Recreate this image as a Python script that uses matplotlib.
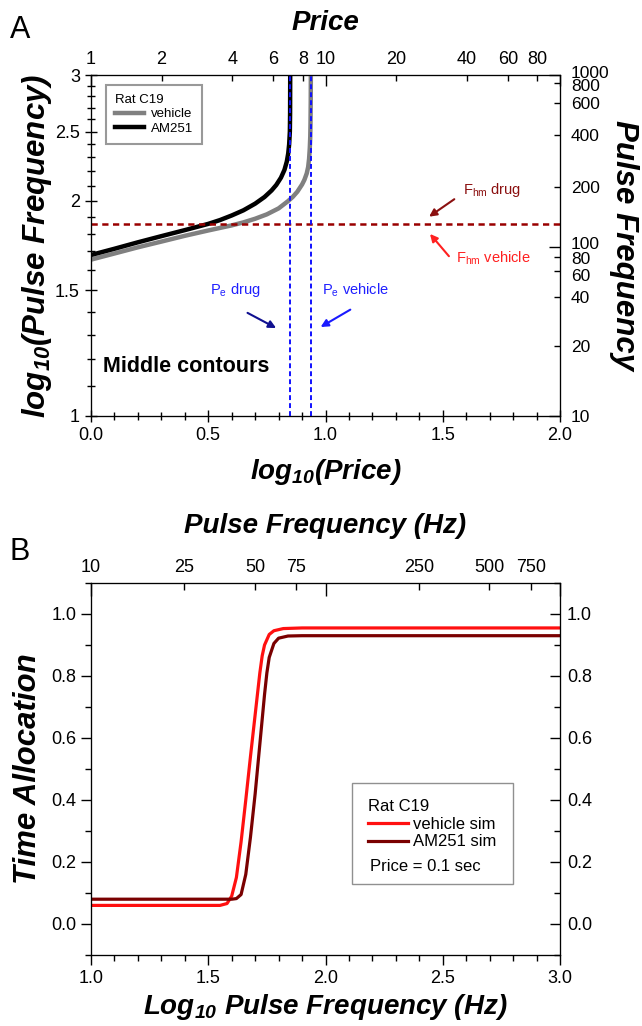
import numpy as np
import matplotlib
matplotlib.use("Agg")
import matplotlib.pyplot as plt
import matplotlib.transforms as mtransforms
from matplotlib.lines import Line2D
from matplotlib.ticker import FixedLocator, FixedFormatter, NullFormatter, MultipleLocator

plt.rcParams['font.family'] = ['Liberation Sans', 'DejaVu Sans']
plt.rcParams['mathtext.fontset'] = 'custom'
plt.rcParams['mathtext.rm'] = 'Liberation Sans'
plt.rcParams['mathtext.it'] = 'Liberation Sans:italic'
plt.rcParams['mathtext.bf'] = 'Liberation Sans:bold:italic'

# ---- Panel A: middle contours, log10(price) vs log10(pulse frequency)
price_log_vehicle = [0.00, 0.10, 0.20, 0.30, 0.40, 0.50, 0.60, 0.65, 0.70, 0.75, 0.80,
                     0.84, 0.86, 0.88, 0.90, 0.91, 0.92, 0.926, 0.930, 0.933, 0.935,
                     0.936, 0.937, 0.9375]
freq_log_vehicle = [1.655, 1.688, 1.722, 1.754, 1.787, 1.818, 1.848, 1.866, 1.888, 1.915, 1.952,
                    1.998, 2.025, 2.060, 2.108, 2.140, 2.185, 2.230, 2.290, 2.370, 2.460,
                    2.560, 2.750, 3.000]

price_log_drug = [0.00, 0.10, 0.20, 0.30, 0.40, 0.50, 0.55, 0.60, 0.65, 0.70, 0.74,
                  0.77, 0.79, 0.81, 0.825, 0.835, 0.841, 0.845, 0.848, 0.849, 0.8495]
freq_log_drug = [1.680, 1.714, 1.750, 1.785, 1.820, 1.857, 1.880, 1.908, 1.940, 1.982, 2.025,
                 2.068, 2.105, 2.155, 2.210, 2.270, 2.330, 2.400, 2.500, 2.650, 3.000]

fhm_level = 1.855          # F_hm (same for drug and vehicle)
pe_drug = 0.85
pe_vehicle = 0.937

price_top_major = [1, 10, 100]
price_top_major_labels = ['1', '10', '']
price_top_minor = [2, 4, 6, 8, 20, 40, 60, 80]

left_major = [1, 1.5, 2, 2.5, 3]
left_major_labels = ['1', '1.5', '2', '2.5', '3']

# right axis (Pulse Frequency) tick places, as fraction of axis height
right_major = [0.0, 0.495, 1.0]
right_major_labels = ['10', '100', '1000']
right_minor = [0.205, 0.350, 0.426, 0.467, 0.672, 0.824, 0.917, 0.976]
right_minor_labels = ['20', '40', '60', '80', '200', '400', '600', '800']

# ---- Panel B: time allocation vs log10 pulse frequency (price = 0.1 s)
logf_vehicle_sim = [1.00, 1.55, 1.58, 1.60, 1.62, 1.64, 1.66, 1.68, 1.70, 1.72, 1.73,
                    1.74, 1.76, 1.78, 1.82, 1.90, 3.00]
ta_vehicle_sim = [0.060, 0.060, 0.066, 0.090, 0.150, 0.265, 0.400, 0.540, 0.675, 0.810, 0.865,
                  0.900, 0.934, 0.946, 0.953, 0.955, 0.955]

logf_am251_sim = [1.00, 1.60, 1.62, 1.64, 1.66, 1.68, 1.70, 1.72, 1.74, 1.75, 1.76,
                  1.78, 1.80, 1.84, 1.90, 3.00]
ta_am251_sim = [0.080, 0.080, 0.082, 0.095, 0.160, 0.280, 0.420, 0.580, 0.740, 0.810, 0.860,
                0.905, 0.922, 0.929, 0.930, 0.930]

freq_top_major = [10, 100, 1000]
freq_top_major_labels = ['10', '', '']
freq_top_minor = [25, 50, 75, 250, 500, 750]

ta_ticks = [0.0, 0.2, 0.4, 0.6, 0.8, 1.0]

W, H = 642, 1026
fig = plt.figure(figsize=(W / 100, H / 100), dpi=100)


def rect(l, t, r, b):
    return [l / W, 1 - b / H, (r - l) / W, (b - t) / H]


label_kw = dict(fontsize=20, fontweight='bold', fontstyle='italic')
vlabel_kw = dict(fontsize=22.5, fontweight='bold', fontstyle='italic')
TS = 13

# ================= Panel A =================
axA = fig.add_axes(rect(91, 75, 560, 416))
axA.plot(price_log_vehicle, freq_log_vehicle, color='#808080', lw=3.2, label='vehicle', zorder=3)
axA.plot(price_log_drug, freq_log_drug, color='black', lw=3.2, label='AM251', zorder=3)
axA.axhline(fhm_level, color='#990000', lw=1.8, ls=(0, (2.5, 1.8)), zorder=4)
axA.axvline(pe_drug, color='#1010ff', lw=1.4, ls=(0, (2.5, 1.6)), zorder=4)
axA.axvline(pe_vehicle, color='#1010ff', lw=1.4, ls=(0, (2.5, 1.6)), zorder=4)

axA.set_yscale('log')
axA.set_ylim(1, 3)
axA.set_xlim(0, 2)
axA.yaxis.set_major_locator(FixedLocator(left_major))
axA.yaxis.set_major_formatter(FixedFormatter(left_major_labels))
axA.yaxis.set_minor_locator(FixedLocator(np.arange(1.1, 2.95, 0.1)))
axA.yaxis.set_minor_formatter(NullFormatter())
axA.xaxis.set_major_locator(MultipleLocator(0.5))
axA.xaxis.set_minor_locator(MultipleLocator(0.1))
axA.tick_params(which='major', direction='inout', length=9, width=1, labelsize=TS)
axA.tick_params(which='minor', direction='inout', length=6, width=1)
axA.set_xlabel(r'$\mathbf{log_{10}}$(Price)', labelpad=9, **label_kw)
axA.set_ylabel(r'$\mathbf{log_{10}}$(Pulse Frequency)', labelpad=1, **vlabel_kw)

leg = axA.legend(title='Rat C19', loc='upper left', bbox_to_anchor=(0.032, 0.971),
                 fontsize=9.5, title_fontsize=9.5, frameon=True, fancybox=False,
                 edgecolor='#808080', borderaxespad=0, borderpad=0.7,
                 handlelength=2.2, handletextpad=0.5, labelspacing=0.15,
                 alignment='left')
leg.get_frame().set_linewidth(1.5)

axA.text(0.05, 1.172, 'Middle contours', fontsize=15.5, fontweight='bold', va='center')

# blue P_e annotations
axA.text(0.507, 1.50, r'P$_{\mathrm{e}}$ drug', color='#2020ff', fontsize=10.5, va='center')
axA.text(0.984, 1.50, r'P$_{\mathrm{e}}$ vehicle', color='#2020ff', fontsize=10.5, va='center')
axA.annotate('', xy=(0.80, 1.322), xytext=(0.657, 1.400),
             arrowprops=dict(arrowstyle='-|>', color='#101090', lw=1.5, mutation_scale=11))
axA.annotate('', xy=(0.969, 1.326), xytext=(1.116, 1.415),
             arrowprops=dict(arrowstyle='-|>', color='#1a1aff', lw=1.5, mutation_scale=11))

# red F_hm annotations
axA.text(1.586, 2.07, r'F$_{\mathrm{hm}}$ drug', color='#8b1010', fontsize=10.5, va='center')
axA.text(1.557, 1.66, r'F$_{\mathrm{hm}}$ vehicle', color='#ff2020', fontsize=10.5, va='center')
axA.annotate('', xy=(1.432, 1.891), xytext=(1.559, 2.021),
             arrowprops=dict(arrowstyle='-|>', color='#8b1010', lw=1.5, mutation_scale=11))
axA.annotate('', xy=(1.438, 1.810), xytext=(1.534, 1.662),
             arrowprops=dict(arrowstyle='-|>', color='#ff2020', lw=1.5, mutation_scale=11))

# top axis: Price
axT = axA.twiny()
axT.set_xlim(0, 2)
axT.set_xticks(np.log10(price_top_major), price_top_major_labels)
axT.set_xticks(np.log10(price_top_minor), [str(p) for p in price_top_minor], minor=True)
axT.tick_params(which='major', direction='in', length=8, width=1, labelsize=TS, pad=5)
axT.tick_params(which='minor', direction='in', length=4, width=1, labelsize=TS, pad=5)
axT.set_xlabel('Price', labelpad=15, **label_kw)

# right axis: Pulse Frequency
axR = axA.twinx()
axR.set_ylim(0, 1)
axR.set_yticks(right_major, right_major_labels)
axR.set_yticks(right_minor, right_minor_labels, minor=True)
axR.tick_params(which='major', direction='in', length=8, width=1, labelsize=12.5, pad=8)
axR.tick_params(which='minor', direction='in', length=4, width=1, labelsize=12.5, pad=8)
# crowded labels: nudge apart a little
nudge = {'1000': 3, '800': -2, '100': 4, '80': -1, '60': -4}
for lab in axR.get_yticklabels(which='both'):
    dy = nudge.get(lab.get_text(), 0)
    if dy:
        lab.set_transform(lab.get_transform() +
                          mtransforms.ScaledTranslation(0, dy / 100, fig.dpi_scale_trans))
axR.set_ylabel('Pulse Frequency', rotation=270, labelpad=21, **vlabel_kw)

fig.text(10 / W, 1 - 30 / H, 'A', fontsize=22, va='center')

# ================= Panel B =================
axB = fig.add_axes(rect(91, 583, 560, 955))
axB.plot(logf_vehicle_sim, ta_vehicle_sim, color='#ff1010', lw=2.3, label='vehicle sim')
axB.plot(logf_am251_sim, ta_am251_sim, color='#7a0000', lw=2.3, label='AM251 sim')
axB.set_xlim(1, 3)
axB.set_ylim(-0.1, 1.1)
axB.xaxis.set_major_locator(MultipleLocator(0.5))
axB.xaxis.set_minor_locator(MultipleLocator(0.1))
axB.yaxis.set_major_locator(FixedLocator(ta_ticks))
axB.yaxis.set_minor_locator(MultipleLocator(0.1))
axB.tick_params(which='major', direction='out', length=7, width=1, labelsize=TS)
axB.tick_params(which='minor', direction='out', length=4, width=1)
axB.set_xlabel(r'$\mathbf{Log_{10}}$ Pulse Frequency (Hz)', labelpad=4, **label_kw)
axB.set_ylabel('Time Allocation', labelpad=6, **vlabel_kw)

blank = Line2D([], [], color='none')
legB = axB.legend(handles=[axB.lines[0], axB.lines[1], blank],
                  labels=['vehicle sim', 'AM251 sim', ' '],
                  title='Rat C19', loc='upper left', bbox_to_anchor=(0.556, 0.463),
                  fontsize=12, title_fontsize=12, frameon=True, fancybox=False,
                  framealpha=1, edgecolor='#909090', borderaxespad=0, borderpad=1.0,
                  handlelength=2.4, handletextpad=0.3, labelspacing=0.15,
                  alignment='left')
legB.get_frame().set_linewidth(1.0)
axB.text(0.595, 0.239, 'Price = 0.1 sec', transform=axB.transAxes, fontsize=12,
         va='center', zorder=10)

axB2 = axB.twinx()
axB2.set_ylim(-0.1, 1.1)
axB2.yaxis.set_major_locator(FixedLocator(ta_ticks))
axB2.yaxis.set_minor_locator(MultipleLocator(0.1))
axB2.tick_params(which='major', direction='in', length=7, width=1, labelsize=TS, pad=5)
axB2.tick_params(which='minor', direction='in', length=4, width=1)

axB3 = axB.twiny()
axB3.set_xlim(1, 3)
axB3.set_xticks(np.log10(freq_top_major), freq_top_major_labels)
axB3.set_xticks(np.log10(freq_top_minor), [str(f) for f in freq_top_minor], minor=True)
axB3.tick_params(which='major', direction='in', length=9, width=1, labelsize=TS, pad=5)
axB3.tick_params(which='minor', direction='in', length=5, width=1, labelsize=TS, pad=5)
axB3.set_xlabel('Pulse Frequency (Hz)', labelpad=19, **label_kw)

fig.text(10 / W, 1 - 552 / H, 'B', fontsize=22, va='center')

fig.savefig('out.png', dpi=100)
